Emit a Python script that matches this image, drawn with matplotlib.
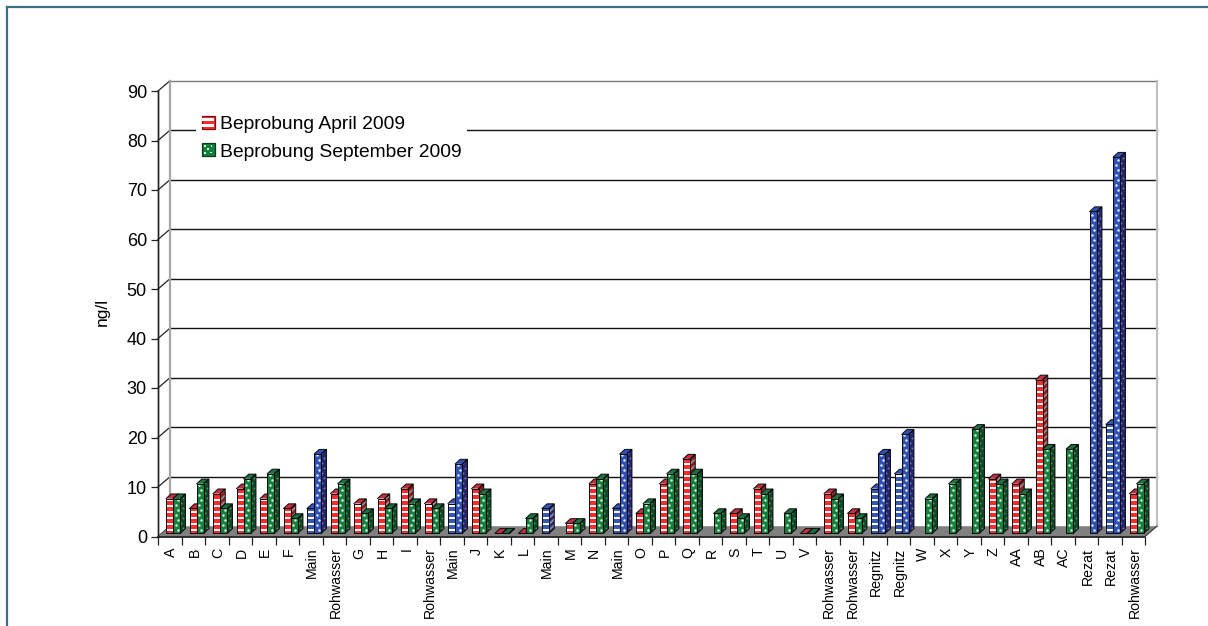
import numpy as np
import matplotlib
matplotlib.use("Agg")
import matplotlib.pyplot as plt
from matplotlib.patches import Polygon, Rectangle
from matplotlib.legend_handler import HandlerBase
from matplotlib.lines import Line2D
from matplotlib.transforms import ScaledTranslation

plt.rcParams['font.family'] = ['Liberation Sans', 'DejaVu Sans']

nan = np.nan
categories = ["A", "B", "C", "D", "E", "F", "Main", "Rohwasser", "G", "H", "I", "Rohwasser", "Main", "J",
              "K", "L", "Main", "M", "N", "Main", "O", "P", "Q", "R", "S", "T", "U", "V",
              "Rohwasser", "Rohwasser", "Regnitz", "Regnitz", "W", "X", "Y", "Z", "AA", "AB", "AC",
              "Rezat", "Rezat", "Rohwasser"]
april = [7, 5, 8, 9, 7, 5, 5, 8, 6, 7, 9, 6, 6, 9,
         0, 0, 5, 2, 10, 5, 4, 10, 15, nan, 4, 9, nan, 0,
         8, 4, 9, 12, nan, nan, nan, 11, 10, 31, nan,
         nan, 22, 8]
september = [7, 10, 5, 11, 12, 3, 16, 10, 4, 5, 6, 5, 14, 8,
             0, 3, nan, 2, 11, 16, 6, 12, 12, 4, 3, 8, 4, 0,
             7, 3, 16, 20, 7, 10, 21, 10, 8, 17, 17,
             65, 76, 10]
river_sites = ["Main", "Regnitz", "Rezat"]
series_labels = ["Beprobung April 2009", "Beprobung September 2009"]
y_ticks = list(range(0, 100, 10))

W, H = 1208, 626
fig = plt.figure(figsize=(W / 100, H / 100), dpi=100, facecolor="white")

# frame of the figure (top and left edge only are visible)
border = "#3F6F87"
fig.add_artist(Line2D([7 / W, 7 / W], [0, 1 - 7 / H], color=border, lw=1.6, transform=fig.transFigure))
fig.add_artist(Line2D([7 / W, 1], [1 - 7 / H, 1 - 7 / H], color=border, lw=1.6, transform=fig.transFigure))

LEFT, RIGHT, Y0, Y90 = 158, 1145, 536.5, 91
ax = fig.add_axes([LEFT / W, 1 - Y0 / H, (RIGHT - LEFT) / W, (Y0 - Y90) / H])
n = len(categories)
ax.set_xlim(0, n)
ax.set_ylim(0, 90)
ax.patch.set_visible(False)
for s in ("top", "right", "bottom"):
    ax.spines[s].set_visible(False)
ax.spines["left"].set_color("#222222")
ax.spines["left"].set_linewidth(1.0)

PX = n / (RIGHT - LEFT)
PY = 90 / (Y0 - Y90)
DX, DY = 12 * PX, 10.3 * PY

# walls, grid and floor
for v in y_ticks[1:]:
    col = "#777777" if v == 90 else "#111111"
    ax.plot([DX, n + DX], [v + DY, v + DY], color=col, lw=1.0, clip_on=False, zorder=1)
for v in y_ticks:
    ax.plot([0, DX], [v, v + DY], color="#222222", lw=0.9, clip_on=False, zorder=1)
ax.plot([DX, DX], [DY, 90 + DY], color="#A6A6A6", lw=1.6, clip_on=False, zorder=1.5)
ax.plot([n + DX, n + DX], [DY, 90 + DY], color="#C0C0C0", lw=1.6, clip_on=False, zorder=1.5)
ax.plot([0, 0], [0, 90], color="#222222", lw=1.0, clip_on=False, zorder=1.6)
ax.add_patch(Polygon([(0, 0), (n, 0), (n + DX, DY), (DX, DY)], closed=True, fc="#808080", ec="none",
                     clip_on=False, zorder=2))
ax.plot([0, n], [0, 0], color="#111111", lw=1.2, clip_on=False, zorder=2.1)
ax.plot([n, n + DX], [0, DY], color="#333333", lw=0.8, clip_on=False, zorder=2.1)

# colour sets: front, stripe / dot, side, side stripe / dot, top
RED = ("#FF2A2A", "#FFFFFF", "#8E1818", "#8E8E8E", "#C23040")
GREEN = ("#14803C", "#D8F0E0", "#0C4A22", "#6B8A75", "#1B7040")
BLUE_S = ("#3558B8", "#FFFFFF", "#28286E", "#8A8AA8", "#3558B8")
BLUE_D = ("#2F50B5", "#E8ECFF", "#25256E", "#7F7FA8", "#2F50B5")

BW = 7.2 * PX
GAP_X, GAP_Y = 3.5 * PX, 3.3 * PY
SX, SY = 5 * PX, 4.6 * PY
STRIPE = 6 * PY
DOT = 5 * PY
Z = [10.0]


def draw_bar(x, v, cols, striped):
    front, mark, side, side_mark, top = cols
    x0 = x + GAP_X
    b = GAP_Y
    z = Z[0]
    Z[0] += 0.01
    ax.add_patch(Polygon([(x0 + BW, b), (x0 + BW + SX, b + SY), (x0 + BW + SX, b + SY + v), (x0 + BW, b + v)],
                         closed=True, fc=side, ec="none", clip_on=False, zorder=z))
    ax.add_patch(Rectangle((x0, b), BW, v, fc=front, ec="none", clip_on=False, zorder=z))
    if striped:
        t = 0.35 * STRIPE
        while t < v:
            h = min(0.42 * STRIPE, v - t)
            ax.add_patch(Rectangle((x0, b + t), BW, h, fc=mark, ec="none", clip_on=False, zorder=z))
            ax.add_patch(Polygon([(x0 + BW, b + t), (x0 + BW + SX, b + t + SY),
                                  (x0 + BW + SX, b + t + SY + h), (x0 + BW, b + t + h)],
                                 closed=True, fc=side_mark, ec="none", clip_on=False, zorder=z))
            t += STRIPE
    else:
        ys = np.arange(0.6 * DOT, v, DOT)
        xs = x0 + BW * (0.5 + 0.14 * (-1.0) ** np.arange(len(ys)))
        ax.scatter(xs, b + ys, s=3.2, c=mark, linewidths=0, clip_on=False, zorder=z)
        ax.scatter(xs + BW * 0.5 + SX * 0.35, b + ys + SY * 0.5, s=1.8, c=side_mark, linewidths=0,
                   clip_on=False, zorder=z)
    ax.add_patch(Polygon([(x0, b + v), (x0 + BW, b + v), (x0 + BW + SX, b + v + SY), (x0 + SX, b + v + SY)],
                         closed=True, fc=top, ec="none", clip_on=False, zorder=z))
    lw = 0.7
    for xy in ([(x0, b), (x0 + BW, b), (x0 + BW, b + v), (x0, b + v), (x0, b)],
               [(x0 + BW, b), (x0 + BW + SX, b + SY), (x0 + BW + SX, b + SY + v), (x0 + BW, b + v)],
               [(x0, b + v), (x0 + SX, b + v + SY), (x0 + BW + SX, b + v + SY), (x0 + BW, b + v)]):
        xy = np.array(xy)
        ax.plot(xy[:, 0], xy[:, 1], color="#0A0A0A", lw=lw, clip_on=False, zorder=z, solid_joinstyle="miter")


for i, name in enumerate(categories):
    is_river = name in river_sites
    x_left = i + 0.5 - BW
    if not np.isnan(april[i]):
        draw_bar(x_left, april[i], BLUE_S if is_river else RED, True)
    if not np.isnan(september[i]):
        draw_bar(x_left + BW, september[i], BLUE_D if is_river else GREEN, False)

# axes ticks and labels
ax.set_yticks(y_ticks)
ax.tick_params(axis="y", length=5, width=0.9, labelsize=13, pad=3, color="#222222")
ax.set_xticks(np.arange(n) + 0.5)
ax.set_xticklabels(categories, rotation=90, fontsize=10.2, ha="center", va="top")
ax.tick_params(axis="x", which="major", length=0, pad=8)
shift = ScaledTranslation(1.5 / 100, 0, fig.dpi_scale_trans)
for lab in ax.get_xticklabels():
    lab.set_transform(lab.get_transform() + shift)
ax.set_xticks(np.arange(n + 1), minor=True)
ax.tick_params(axis="x", which="minor", length=5.5, width=0.9, color="#222222")
ax.set_ylabel("ng/l", fontsize=12.5, labelpad=0)
ax.yaxis.set_label_coords((110 - LEFT) / (RIGHT - LEFT), (Y0 - 312) / (Y0 - Y90))


# legend with patterned swatches
class Swatch(HandlerBase):
    def __init__(self, front, mark, edge, striped):
        super().__init__()
        self.c = (front, mark, edge, striped)

    def create_artists(self, legend, orig, xd, yd, width, height, fontsize, trans):
        front, mark, edge, striped = self.c
        arts = [Rectangle((-xd, -yd), width, height, fc=front, ec=edge, lw=0.9, transform=trans)]
        if striped:
            for f in (0.12, 0.62):
                arts.append(Rectangle((-xd + 0.5, -yd + f * height), width - 1, 0.24 * height, fc=mark, ec="none",
                                      transform=trans))
        else:
            for fx, fy in ((0.25, 0.25), (0.7, 0.3), (0.48, 0.55), (0.25, 0.8), (0.72, 0.78)):
                arts.append(Rectangle((-xd + fx * width - 0.5, -yd + fy * height - 0.5), 1.1, 1.1, fc=mark, ec="none",
                                      transform=trans))
        return arts


h1 = Rectangle((0, 0), 1, 1)
h2 = Rectangle((0, 0), 1, 1)
leg = ax.legend([h1, h2], series_labels,
                handler_map={h1: Swatch("#FF2A2A", "#FFFFFF", "#7A1010", True),
                             h2: Swatch("#14803C", "#D8F0E0", "#0C3A1C", False)},
                loc="upper left", bbox_to_anchor=(196 / W, 1 - 110 / H), bbox_transform=fig.transFigure,
                fontsize=13.9, frameon=True, fancybox=False, framealpha=1, facecolor="white", edgecolor="none",
                borderaxespad=0, borderpad=0.3, handlelength=0.68, handleheight=0.68, handletextpad=0.26,
                labelspacing=0.52)
leg.set_zorder(50)

fig.savefig("out.png", dpi=100)
